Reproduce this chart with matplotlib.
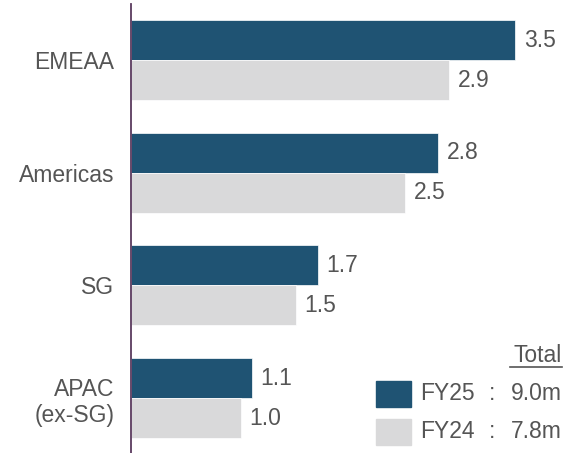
import matplotlib
matplotlib.use("Agg")
import matplotlib.pyplot as plt
from matplotlib.patches import Rectangle
import numpy as np

categories = ["EMEAA", "Americas", "SG", "APAC\n(ex-SG)"]
fy25 = [3.5, 2.8, 1.7, 1.1]
fy24 = [2.9, 2.5, 1.5, 1.0]
series_names = ["FY25", "FY24"]
totals = ["9.0m", "7.8m"]

C25 = "#1F5373"
C24 = "#D9D9DA"
TXT = "#555555"
FS = 16.5
plt.rcParams['font.family'] = ['Liberation Sans', 'DejaVu Sans']

W, H = 568, 453
fig = plt.figure(figsize=(W/100, H/100), dpi=100)
ax = fig.add_axes([131/W, 0, (W-131)/W, 449/H])

y = np.arange(len(categories))
h = 0.355
ax.barh(y - h/2, fy25, height=h, color=C25, edgecolor="white", linewidth=0.5)
ax.barh(y + h/2, fy24, height=h, color=C24, edgecolor="white", linewidth=0.5)
for yi, v in zip(y, fy25):
    ax.text(v + 0.08, yi - h/2, f"{v:.1f}", va="center", ha="left", fontsize=FS, color=TXT)
for yi, v in zip(y, fy24):
    ax.text(v + 0.08, yi + h/2, f"{v:.1f}", va="center", ha="left", fontsize=FS, color=TXT)

ax.set_xlim(0, 3.98)
ax.set_ylim(3.487, -0.497)
ax.set_yticks(y)
ax.set_yticklabels(categories, fontsize=FS, color=TXT)
ax.tick_params(axis="y", length=0, pad=12)
ax.set_xticks([])
for s in ["top", "right", "bottom"]:
    ax.spines[s].set_visible(False)
ax.spines["left"].set_color("#5B3A5E")
ax.spines["left"].set_linewidth(1.3)

# legend
fig.text(562/W, 1 - 356/H, "Total", ha="right", va="center", fontsize=FS, color=TXT)
fig.add_artist(plt.Line2D([510/W, 562/W], [1 - 367/H, 1 - 367/H], color=TXT, lw=1.2))
for i, (name, col, tot) in enumerate(zip(series_names, [C25, C24], totals)):
    yc = 394 + i * 38
    fig.add_artist(Rectangle((376/W, 1 - (yc + 13)/H), 35/W, 26/H, color=col, transform=fig.transFigure))
    fig.text(420/W, 1 - yc/H, name, ha="left", va="center", fontsize=FS, color=TXT)
    fig.text(492/W, 1 - yc/H, ":", ha="center", va="center", fontsize=FS, color=TXT)
    fig.text(562/W, 1 - yc/H, tot, ha="right", va="center", fontsize=FS, color=TXT)

fig.savefig("out.png", dpi=100)
